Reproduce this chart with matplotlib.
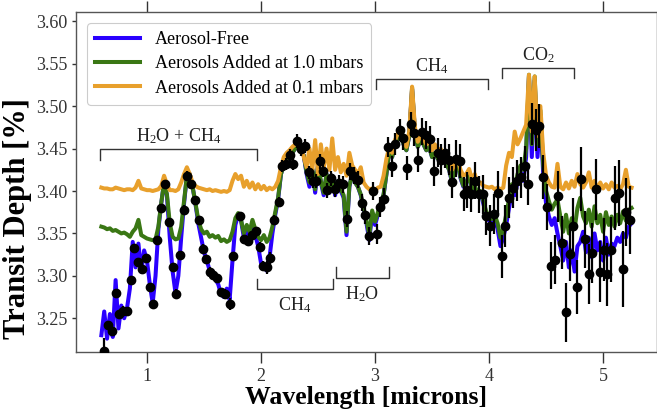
import numpy as np
import matplotlib
matplotlib.use("Agg")
import matplotlib.pyplot as plt

plt.rcParams['font.family'] = ['Liberation Serif', 'DejaVu Serif']
plt.rcParams['mathtext.fontset'] = 'custom'
plt.rcParams['mathtext.rm'] = 'Liberation Serif'
plt.rcParams['mathtext.it'] = 'Liberation Serif:italic'
plt.rcParams['mathtext.bf'] = 'Liberation Serif:bold'

# ---- model wavelength grid (microns) ----
wl_model = np.round(np.arange(0.600, 5.2501, 0.025), 3)

# ---- Aerosol-free model ----
model_free = [
    3.230, 3.258, 3.226, 3.255, 3.228, 3.295, 3.238, 3.265, 3.250, 3.262,
    3.285, 3.340, 3.310, 3.338, 3.305, 3.330, 3.318, 3.290, 3.268, 3.300,
    3.355, 3.385, 3.410, 3.395, 3.345, 3.305, 3.280, 3.300, 3.345, 3.385,
    3.418, 3.420, 3.405, 3.385, 3.362, 3.345, 3.328, 3.318, 3.306, 3.300,
    3.296, 3.290, 3.278, 3.275, 3.285, 3.272, 3.318, 3.360, 3.372, 3.365,
    3.345, 3.352, 3.340, 3.358, 3.348, 3.335, 3.315, 3.312, 3.306, 3.322,
    3.350, 3.372, 3.390, 3.420, 3.430, 3.440, 3.438, 3.445, 3.450, 3.455,
    3.448, 3.442, 3.420, 3.405, 3.425, 3.398, 3.430, 3.410, 3.395, 3.420,
    3.398, 3.418, 3.395, 3.412, 3.400, 3.392, 3.348, 3.405, 3.420, 3.410,
    3.405, 3.395, 3.378, 3.362, 3.342, 3.375, 3.360, 3.372, 3.385, 3.395,
    3.420, 3.448, 3.440, 3.455, 3.462, 3.468, 3.455, 3.448, 3.465, 3.520,
    3.470, 3.452, 3.460, 3.455, 3.448, 3.452, 3.440, 3.445, 3.438, 3.442,
    3.435, 3.432, 3.425, 3.410, 3.425, 3.432, 3.415, 3.405, 3.410, 3.418,
    3.400, 3.405, 3.395, 3.398, 3.385, 3.372, 3.365, 3.362, 3.368, 3.355,
    3.335, 3.345, 3.360, 3.380, 3.398, 3.395, 3.410, 3.420, 3.412, 3.440,
    3.535, 3.440, 3.530, 3.440, 3.490, 3.420, 3.385, 3.370, 3.360, 3.368,
    3.350, 3.335, 3.318, 3.340, 3.310, 3.330, 3.305, 3.335, 3.340, 3.352,
    3.328, 3.345, 3.322, 3.350, 3.330, 3.340, 3.318, 3.345, 3.325, 3.338,
    3.335, 3.345, 3.340, 3.350, 3.345, 3.358, 3.362,
]

# ---- Aerosols at 1.0 mbar ----
model_1mbar = [
    3.358, 3.357, 3.355, 3.356, 3.353, 3.354, 3.352, 3.350, 3.351, 3.349,
    3.346, 3.352, 3.356, 3.366, 3.348, 3.346, 3.344, 3.343, 3.342, 3.343,
    3.358, 3.386, 3.410, 3.396, 3.362, 3.346, 3.343, 3.344, 3.358, 3.388,
    3.418, 3.420, 3.405, 3.386, 3.366, 3.355, 3.350, 3.352, 3.346, 3.348,
    3.345, 3.347, 3.341, 3.343, 3.340, 3.342, 3.352, 3.368, 3.374, 3.366,
    3.350, 3.360, 3.352, 3.366, 3.355, 3.346, 3.342, 3.348, 3.340, 3.345,
    3.358, 3.375, 3.392, 3.420, 3.430, 3.440, 3.438, 3.445, 3.450, 3.455,
    3.448, 3.442, 3.422, 3.410, 3.426, 3.402, 3.430, 3.412, 3.398, 3.420,
    3.400, 3.418, 3.398, 3.412, 3.402, 3.395, 3.352, 3.406, 3.420, 3.410,
    3.405, 3.396, 3.380, 3.365, 3.348, 3.377, 3.364, 3.375, 3.386, 3.396,
    3.420, 3.448, 3.440, 3.455, 3.462, 3.468, 3.455, 3.448, 3.465, 3.522,
    3.470, 3.452, 3.460, 3.455, 3.448, 3.452, 3.440, 3.445, 3.438, 3.442,
    3.435, 3.432, 3.425, 3.412, 3.425, 3.432, 3.416, 3.406, 3.410, 3.418,
    3.402, 3.406, 3.397, 3.400, 3.388, 3.376, 3.370, 3.367, 3.372, 3.362,
    3.345, 3.355, 3.372, 3.390, 3.408, 3.405, 3.420, 3.430, 3.425, 3.450,
    3.537, 3.455, 3.535, 3.455, 3.495, 3.430, 3.400, 3.388, 3.378, 3.385,
    3.390, 3.370, 3.352, 3.372, 3.350, 3.368, 3.355, 3.380, 3.392, 3.370,
    3.362, 3.378, 3.358, 3.382, 3.362, 3.372, 3.352, 3.375, 3.360, 3.370,
    3.358, 3.372, 3.362, 3.376, 3.365, 3.378, 3.380,
]

# ---- Aerosols at 0.1 mbar ----
model_01mbar = [
    3.404, 3.403, 3.403, 3.402, 3.402, 3.404, 3.403, 3.402, 3.401, 3.402,
    3.402, 3.401, 3.404, 3.412, 3.403, 3.402, 3.401, 3.401, 3.400, 3.401,
    3.402, 3.406, 3.418, 3.408, 3.401, 3.401, 3.400, 3.402, 3.410, 3.420,
    3.428, 3.420, 3.410, 3.406, 3.404, 3.403, 3.402, 3.401, 3.402, 3.400,
    3.401, 3.400, 3.399, 3.400, 3.399, 3.401, 3.412, 3.420, 3.414, 3.418,
    3.405, 3.412, 3.404, 3.410, 3.402, 3.408, 3.402, 3.406, 3.401, 3.404,
    3.402, 3.405, 3.412, 3.428, 3.440, 3.445, 3.448, 3.452, 3.455, 3.460,
    3.452, 3.440, 3.428, 3.450, 3.425, 3.460, 3.420, 3.455, 3.428, 3.450,
    3.425, 3.462, 3.425, 3.440, 3.422, 3.432, 3.418, 3.445, 3.430, 3.425,
    3.420, 3.428, 3.410, 3.405, 3.402, 3.403, 3.400, 3.404, 3.405, 3.418,
    3.438, 3.452, 3.445, 3.460, 3.468, 3.470, 3.460, 3.452, 3.470, 3.523,
    3.475, 3.458, 3.466, 3.462, 3.455, 3.460, 3.448, 3.455, 3.446, 3.450,
    3.443, 3.440, 3.435, 3.425, 3.432, 3.438, 3.425, 3.418, 3.420, 3.426,
    3.414, 3.420, 3.408, 3.410, 3.406, 3.405, 3.404, 3.405, 3.402, 3.404,
    3.402, 3.404, 3.430, 3.445, 3.440, 3.470, 3.455, 3.462, 3.470, 3.478,
    3.537, 3.470, 3.535, 3.465, 3.500, 3.445, 3.418, 3.410, 3.405, 3.404,
    3.432, 3.405, 3.402, 3.410, 3.403, 3.412, 3.405, 3.420, 3.408, 3.404,
    3.410, 3.422, 3.404, 3.412, 3.402, 3.410, 3.403, 3.408, 3.402, 3.410,
    3.404, 3.406, 3.402, 3.408, 3.425, 3.405, 3.404,
]

# ---- observed spectrum ----
obs_wl = [
    0.625, 0.662, 0.691, 0.724, 0.759, 0.788, 0.826, 0.858, 0.890, 0.925,
    0.958, 0.993, 1.025, 1.057, 1.089, 1.121, 1.160, 1.191, 1.224, 1.256,
    1.288, 1.323, 1.355, 1.388, 1.419, 1.452, 1.490, 1.519, 1.551, 1.583,
    1.616, 1.651, 1.686, 1.724, 1.756, 1.818, 1.853, 1.888, 1.917, 1.954,
    1.987, 2.016, 2.054, 2.083, 2.118, 2.154, 2.183, 2.215, 2.250, 2.282,
    2.320, 2.352, 2.384, 2.417, 2.452, 2.484, 2.516, 2.548, 2.581, 2.616,
    2.647, 2.680, 2.715, 2.750, 2.782, 2.814, 2.849, 2.882, 2.914, 2.946,
    2.981, 3.013, 3.048, 3.081, 3.112, 3.145, 3.177, 3.215, 3.247, 3.279,
    3.314, 3.346, 3.379, 3.414, 3.449, 3.481, 3.513, 3.548, 3.581, 3.612,
    3.647, 3.677, 3.712, 3.743, 3.776, 3.809, 3.846, 3.879, 3.911, 3.943,
    3.976, 4.007, 4.042, 4.075, 4.110, 4.142, 4.174, 4.209, 4.241, 4.276,
    4.311, 4.340, 4.373, 4.408, 4.440, 4.472, 4.507, 4.540, 4.575, 4.607,
    4.639, 4.674, 4.706, 4.739, 4.774, 4.805, 4.840, 4.873, 4.905, 4.937,
    4.972, 5.004, 5.037, 5.072, 5.104, 5.139, 5.171, 5.204, 5.239,
]
obs_depth = [
    3.212, 3.242, 3.235, 3.280, 3.255, 3.259, 3.258, 3.295, 3.333, 3.316,
    3.308, 3.321, 3.287, 3.267, 3.342, 3.380, 3.408, 3.363, 3.310, 3.279,
    3.324, 3.378, 3.418, 3.408, 3.389, 3.366, 3.332, 3.320, 3.305, 3.301,
    3.297, 3.281, 3.279, 3.267, 3.323, 3.370, 3.343, 3.341, 3.348, 3.353,
    3.334, 3.312, 3.310, 3.321, 3.366, 3.387, 3.429, 3.432, 3.442, 3.432,
    3.459, 3.449, 3.453, 3.422, 3.412, 3.412, 3.435, 3.424, 3.401, 3.415,
    3.402, 3.410, 3.408, 3.367, 3.423, 3.418, 3.413, 3.386, 3.372, 3.347,
    3.400, 3.349, 3.381, 3.391, 3.452, 3.429, 3.455, 3.472, 3.462, 3.427,
    3.479, 3.468, 3.437, 3.470, 3.466, 3.461, 3.423, 3.445, 3.437, 3.445,
    3.437, 3.411, 3.438, 3.435, 3.396, 3.401, 3.396, 3.412, 3.396, 3.396,
    3.371, 3.359, 3.373, 3.398, 3.323, 3.359, 3.392, 3.404, 3.412, 3.416,
    3.429, 3.408, 3.479, 3.472, 3.477, 3.417, 3.381, 3.312, 3.319, 3.394,
    3.339, 3.257, 3.326, 3.359, 3.287, 3.414, 3.343, 3.302, 3.327, 3.402,
    3.305, 3.331, 3.302, 3.331, 3.392, 3.398, 3.308, 3.375, 3.366,
]
obs_err = [
    0.015, 0.005, 0.005, 0.005, 0.005, 0.005, 0.005, 0.005, 0.005, 0.005,
    0.006, 0.005, 0.005, 0.005, 0.005, 0.005, 0.005, 0.005, 0.005, 0.005,
    0.005, 0.005, 0.005, 0.005, 0.005, 0.005, 0.005, 0.005, 0.005, 0.005,
    0.005, 0.005, 0.005, 0.007, 0.005, 0.005, 0.005, 0.006, 0.005, 0.005,
    0.006, 0.006, 0.008, 0.007, 0.006, 0.006, 0.007, 0.007, 0.007, 0.007,
    0.008, 0.008, 0.008, 0.008, 0.009, 0.008, 0.009, 0.008, 0.009, 0.009,
    0.009, 0.009, 0.010, 0.010, 0.010, 0.010, 0.010, 0.010, 0.011, 0.011,
    0.011, 0.012, 0.012, 0.012, 0.012, 0.012, 0.013, 0.013, 0.014, 0.014,
    0.014, 0.015, 0.015, 0.016, 0.016, 0.016, 0.017, 0.017, 0.018, 0.018,
    0.018, 0.019, 0.022, 0.020, 0.020, 0.021, 0.021, 0.022, 0.022, 0.023,
    0.023, 0.024, 0.024, 0.025, 0.025, 0.025, 0.024, 0.024, 0.024, 0.024,
    0.024, 0.025, 0.025, 0.025, 0.026, 0.026, 0.027, 0.028, 0.029, 0.030,
    0.031, 0.035, 0.032, 0.033, 0.032, 0.038, 0.034, 0.035, 0.035, 0.036,
    0.036, 0.037, 0.037, 0.038, 0.038, 0.039, 0.045, 0.040, 0.040,
]

# ---- molecular feature annotations ----
feat_labels = [r'H$_2$O + CH$_4$', r'CH$_4$', r'CO$_2$', r'CH$_4$', r'H$_2$O']
feat_x0 = [0.59, 3.007, 4.112, 1.967, 2.66]
feat_x1 = [1.963, 3.993, 4.744, 2.630, 3.120]
feat_y = [3.449, 3.532, 3.545, 3.2845, 3.298]
feat_up = [False, False, False, True, True]   # bracket arms pointing up (label below)

series_labels = ['Aerosol-Free', 'Aerosols Added at 1.0 mbars', 'Aerosols Added at 0.1 mbars']
series_colors = ['#2a00ff', '#3a7714', '#e8a02c']

fig = plt.figure(figsize=(6.57, 4.13), dpi=100)
ax = fig.add_axes([0.1161, 0.1484, 0.8834, 0.8218])

for vals, lab, col in zip([model_free, model_1mbar, model_01mbar], series_labels, series_colors):
    ax.plot(wl_model, vals, color=col, lw=2.9, label=lab, solid_joinstyle='round')

ax.errorbar(obs_wl, obs_depth, yerr=obs_err, fmt='o', color='black', ms=6,
            elinewidth=1.6, capsize=0, zorder=5)

arm = 0.012
for lab, x0, x1, y, up in zip(feat_labels, feat_x0, feat_x1, feat_y, feat_up):
    d = arm if up else -arm
    ax.plot([x0, x0, x1, x1], [y + d, y, y, y + d], color='#333333', lw=1.0)
    xm = 0.5 * (x0 + x1)
    if up:
        ax.text(xm, y - 0.008, lab, ha='center', va='top', fontsize=13, color='#222222')
    else:
        ax.text(xm, y + 0.004, lab, ha='center', va='bottom', fontsize=13, color='#222222')

ax.set_xlim(0.38, 5.47)
ax.set_ylim(3.2106, 3.6106)
ax.set_xticks([1, 2, 3, 4, 5])
ax.set_yticks([3.25, 3.30, 3.35, 3.40, 3.45, 3.50, 3.55, 3.60])
ax.set_yticklabels(['3.25', '3.30', '3.35', '3.40', '3.45', '3.50', '3.55', '3.60'])

ax.tick_params(axis='x', which='major', direction='out', length=8, width=1,
               top=True, bottom=True, labelsize=13, colors='#333333')
ax.tick_params(axis='y', which='major', direction='out', length=3, width=1,
               left=True, right=False, labelsize=13, colors='#333333')
for s in ax.spines.values():
    s.set_color('#555555')
    s.set_linewidth(1.0)

ax.set_xlabel('Wavelength [microns]', fontsize=18.5, fontweight='bold', labelpad=1)
ax.set_ylabel('Transit Depth [%]', fontsize=22, fontweight='bold')
ax.yaxis.set_label_coords(-0.077, 0.392)

leg = ax.legend(loc='upper left', fontsize=13, frameon=True, fancybox=True,
                edgecolor='#cccccc', framealpha=1.0, handlelength=2.5,
                borderaxespad=0.6, labelspacing=0.4, borderpad=0.45)
leg.get_frame().set_linewidth(0.8)

fig.savefig('out.png', dpi=100)
